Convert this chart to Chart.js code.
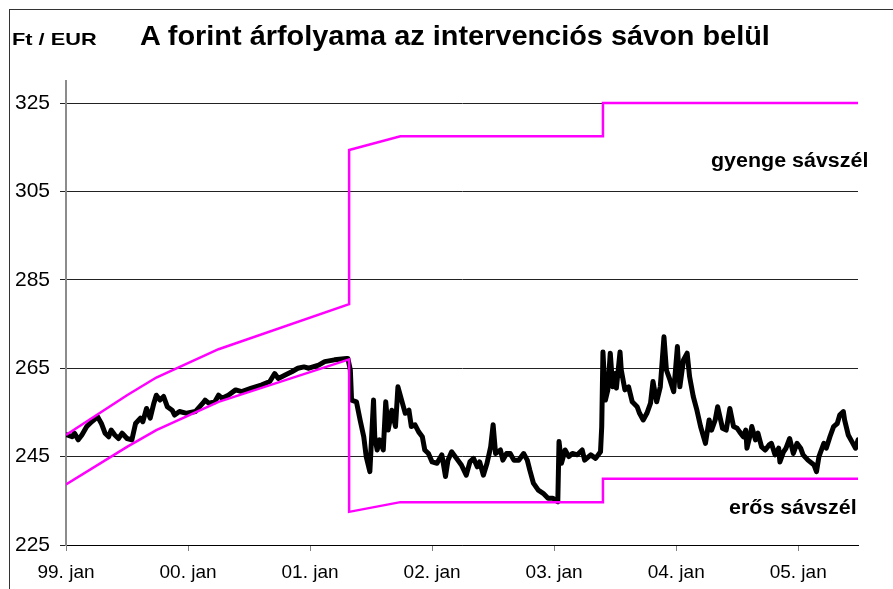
<!DOCTYPE html>
<html lang="hu">
<head>
  <meta charset="UTF-8" />
  <title>A forint árfolyama az intervenciós sávon belül</title>
  <style>
    body {
      margin: 0;
      background: #fff;
      font-family: 'Liberation Sans', Arial, sans-serif;
    }
    .wrap {
      position: relative;
      width: 893px;
      height: 589px;
      overflow: hidden;
    }
    canvas {
      position: absolute;
      left: 0;
      top: 0;
    }
    .frame {
      position: absolute;
      left: 9px;
      top: 9px;
      width: 950px;
      height: 650px;
      border-top: 1px solid #333;
      border-left: 1px solid #333;
    }
    .txt {
      position: absolute;
      font-weight: bold;
      line-height: 1;
      white-space: nowrap;
      color: #000;
      transform-origin: left top;
    }
    .title { left: 140px; top: 23px; font-size: 27px; transform: scaleX(1.07); }
    .unit { left: 12px; top: 31px; font-size: 17px; transform: scaleX(1.28); }
    .weak { left: 711px; top: 151px; font-size: 19.5px; transform: scaleX(1.1); }
    .strong { left: 729px; top: 498px; font-size: 19.5px; transform: scaleX(1.1); }
  </style>
</head>
<body>
  <div class="wrap">
    <canvas id="rateChart" width="893" height="589"></canvas>
    <div class="frame"></div>
    <div class="txt unit">Ft / EUR</div>
    <div class="txt title">A forint árfolyama az intervenciós sávon belül</div>
    <div class="txt weak">gyenge sávszél</div>
    <div class="txt strong">erős sávszél</div>
  </div>

  <script src="https://cdn.jsdelivr.net/npm/chart.js"></script>
  <script>
    // idő: tört év, értékek: Ft/EUR
    const rateDates = [
      1999.01, 1999.05, 1999.07, 1999.10, 1999.13, 1999.17, 1999.21, 1999.26, 1999.29, 1999.32, 1999.35, 1999.37, 1999.40, 1999.43, 1999.46, 1999.50, 1999.54, 1999.57, 1999.61, 1999.63, 1999.66, 1999.69, 1999.72, 1999.74, 1999.77, 1999.80, 1999.83, 1999.87, 1999.89, 1999.93, 1999.99,
      2000.06, 2000.13, 2000.14, 2000.17, 2000.22, 2000.25, 2000.28, 2000.33, 2000.39, 2000.44, 2000.52, 2000.60, 2000.67, 2000.71, 2000.74, 2000.80, 2000.85, 2000.90, 2000.95, 2000.99,
      2001.07, 2001.12, 2001.20, 2001.30, 2001.31, 2001.33, 2001.34, 2001.38, 2001.41, 2001.44, 2001.46, 2001.49, 2001.52, 2001.53, 2001.55, 2001.57, 2001.60, 2001.62, 2001.64, 2001.67, 2001.70, 2001.72, 2001.75, 2001.78, 2001.81, 2001.83, 2001.86, 2001.89, 2001.92, 2001.94, 2001.97,
      2002.00, 2002.04, 2002.08, 2002.11, 2002.13, 2002.16, 2002.20, 2002.24, 2002.28, 2002.31, 2002.34, 2002.37, 2002.39, 2002.42, 2002.45, 2002.48, 2002.50, 2002.52, 2002.56, 2002.58, 2002.61, 2002.64, 2002.67, 2002.71, 2002.75, 2002.78, 2002.80, 2002.83, 2002.87, 2002.91, 2002.95, 2002.99,
      2003.03, 2003.04, 2003.06, 2003.09, 2003.12, 2003.15, 2003.19, 2003.23, 2003.25, 2003.30, 2003.34, 2003.38, 2003.39, 2003.40, 2003.42, 2003.44, 2003.46, 2003.48, 2003.50, 2003.51, 2003.54, 2003.55, 2003.58, 2003.61, 2003.64, 2003.68, 2003.70, 2003.73, 2003.76, 2003.79, 2003.81, 2003.84, 2003.87, 2003.90, 2003.92, 2003.95, 2003.98,
      2004.01, 2004.03, 2004.06, 2004.09, 2004.11, 2004.14, 2004.17, 2004.20, 2004.24, 2004.27, 2004.29, 2004.32, 2004.34, 2004.38, 2004.41, 2004.44, 2004.47, 2004.50, 2004.52, 2004.55, 2004.57, 2004.58, 2004.61, 2004.62, 2004.65, 2004.67, 2004.70, 2004.73, 2004.76, 2004.78, 2004.81, 2004.84, 2004.85, 2004.88, 2004.90, 2004.93, 2004.96, 2004.99,
      2005.02, 2005.04, 2005.08, 2005.13, 2005.15, 2005.17, 2005.21, 2005.23, 2005.26, 2005.29, 2005.32, 2005.34, 2005.37, 2005.38, 2005.41, 2005.44, 2005.47, 2005.49
    ];
    const rateValues = [
      249.9, 249.5, 250.3, 248.8, 249.9, 251.8, 252.9, 254.0, 252.5, 250.3, 249.5, 251.0, 249.9, 249.1, 250.3, 249.1, 248.8, 252.5, 253.7, 252.9, 255.9, 253.7, 257.1, 258.9, 257.8, 258.6, 256.3, 255.5, 254.4, 255.2, 254.8,
      255.2, 257.4, 257.8, 257.1, 257.4, 258.9, 258.2, 258.9, 260.1, 259.7, 260.5, 261.2, 262.0, 263.8, 262.7, 263.5, 264.2, 265.0, 265.3, 265.0,
      265.7, 266.5, 266.9, 267.2, 267.2, 264.6, 257.8, 257.4, 253.3, 249.5, 245.0, 241.6, 257.8, 249.5, 246.5, 248.8, 246.5, 257.4, 251.0, 255.5, 251.8, 260.8, 257.8, 254.8, 255.5, 251.8, 252.2, 250.6, 249.5, 246.5, 245.7,
      243.8, 243.5, 245.4, 240.5, 244.2, 246.1, 244.6, 243.1, 240.8, 243.8, 244.6, 242.7, 243.8, 240.8, 243.5, 247.2, 252.2, 245.7, 246.5, 244.2, 245.7, 245.7, 244.2, 244.2, 245.7, 244.2, 242.0, 239.0, 237.4, 236.7, 235.6, 235.6,
      234.8, 248.4, 243.5, 246.5, 245.0, 245.7, 245.4, 246.5, 244.2, 245.4, 244.6, 246.1, 251.8, 268.7, 257.8, 260.1, 268.4, 260.8, 263.8, 260.5, 268.7, 264.6, 260.1, 260.8, 257.4, 256.3, 254.8, 253.3, 254.8, 257.1, 262.0, 257.4, 260.8, 272.1, 264.6, 262.3, 259.7,
      269.9, 260.8, 266.9, 268.4, 263.1, 258.6, 255.5, 251.8, 248.0, 253.3, 251.0, 253.3, 256.3, 251.4, 251.0, 255.9, 251.8, 251.4, 250.6, 249.5, 251.0, 246.9, 250.3, 251.8, 248.8, 250.3, 247.2, 246.5, 247.6, 248.0, 245.4, 246.9, 243.8, 246.1, 246.9, 249.1, 245.7, 248.0,
      246.9, 245.4, 244.2, 243.1, 241.6, 245.0, 248.0, 246.9, 249.5, 251.8, 252.5, 254.4, 255.2, 253.3, 249.9, 248.4, 246.9, 248.8
    ];

    // sávszélek
    const bandDates = [1999.00, 1999.50, 1999.74, 2000.25, 2001.32, 2001.32, 2001.74, 2003.40, 2003.40, 2005.49];
    const weakEdge = [249.9, 258.9, 262.9, 269.3, 279.5, 314.4, 317.5, 317.5, 325.0, 325.0];
    const strongEdge = [238.7, 247.2, 251.0, 257.4, 267.0, 232.5, 234.7, 234.7, 240.0, 240.0];

    const yearTicks = [1999, 2000, 2001, 2002, 2003, 2004, 2005];
    const valueTicks = [225, 245, 265, 285, 305, 325];

    const toPoints = (xs, ys) => xs.map((x, i) => ({ x: x, y: ys[i] }));
    const fontFamily = "'Liberation Sans', Arial, sans-serif";

    const ctx = document.getElementById('rateChart').getContext('2d');
    new Chart(ctx, {
      type: 'line',
      data: {
        datasets: [
          {
            label: 'gyenge sávszél',
            data: toPoints(bandDates, weakEdge),
            borderColor: '#ff00ff',
            borderWidth: 2.5,
            pointRadius: 0,
            order: 0
          },
          {
            label: 'erős sávszél',
            data: toPoints(bandDates, strongEdge),
            borderColor: '#ff00ff',
            borderWidth: 2.5,
            pointRadius: 0,
            order: 0
          },
          {
            label: 'Ft / EUR',
            data: toPoints(rateDates, rateValues),
            borderColor: '#000',
            borderWidth: 5,
            borderJoinStyle: 'round',
            borderCapStyle: 'round',
            pointRadius: 0,
            order: 1
          }
        ]
      },
      options: {
        responsive: false,
        animation: false,
        devicePixelRatio: 1,
        layout: { padding: { left: 10, right: 35, top: 81, bottom: 0 } },
        plugins: {
          legend: { display: false },
          tooltip: { enabled: false }
        },
        scales: {
          x: {
            type: 'linear',
            min: 1999,
            max: 2005.49,
            afterBuildTicks: s => { s.ticks = yearTicks.map(v => ({ value: v })); },
            afterFit: s => { s.height = 44; },
            grid: { drawOnChartArea: false, tickLength: 6, color: '#808080' },
            border: { color: '#000', width: 1 },
            ticks: {
              autoSkip: false,
              maxRotation: 0,
              padding: 10,
              color: '#000',
              font: { family: fontFamily, size: 19 },
              callback: v => String(v).slice(2) + '. jan'
            }
          },
          y: {
            min: 225,
            max: 330,
            afterBuildTicks: s => { s.ticks = valueTicks.map(v => ({ value: v })); },
            afterFit: s => { s.width = 56; },
            grid: { color: '#222', tickLength: 6 },
            border: { color: '#8c8c8c', width: 2 },
            ticks: {
              padding: 10,
              color: '#000',
              font: { family: fontFamily, size: 21 }
            }
          }
        }
      }
    });
  </script>
</body>
</html>
